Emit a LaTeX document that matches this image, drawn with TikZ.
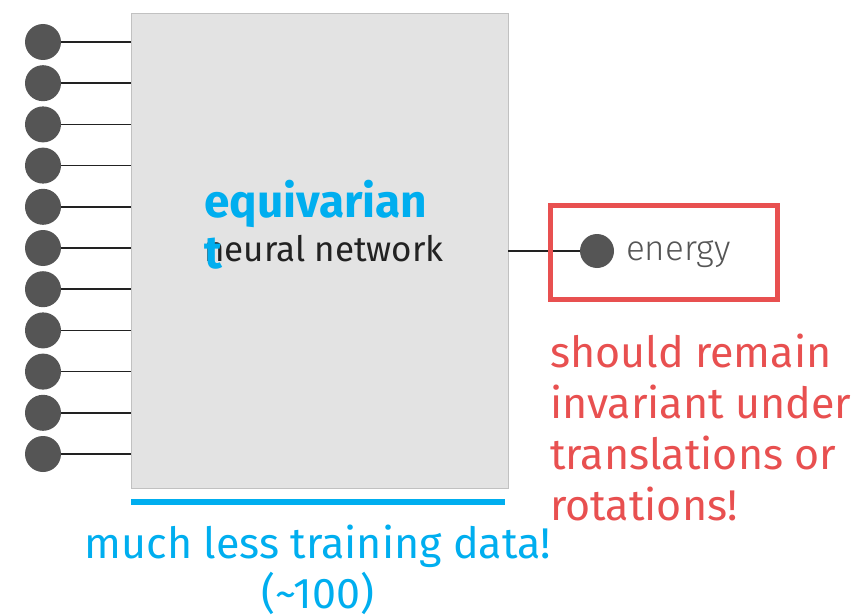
\documentclass[tikz,border=0pt]{standalone}
\usepackage{fontspec}
\setmainfont{Fira Sans}
\newfontfamily\lightfont{Fira Sans Light}
\definecolor{dotgray}{HTML}{555555}
\definecolor{boxgray}{HTML}{E3E3E3}
\definecolor{eqblue}{HTML}{00AEEF}
\definecolor{warnred}{HTML}{E85050}
\definecolor{textdark}{HTML}{222222}
\tikzset{
  inputdot/.style={circle,fill=dotgray,minimum size=36pt,inner sep=0pt},
  outdot/.style={circle,fill=dotgray,minimum size=34pt,inner sep=0pt},
  wire/.style={line width=1.6pt,draw=textdark},
  redline/.style={anchor=base west,inner sep=0pt,text=warnred,font=\fontsize{43}{51}\selectfont},
  blueline/.style={anchor=base,inner sep=0pt,text=eqblue,font=\fontsize{43}{50}\selectfont},
}
\begin{document}
\begin{tikzpicture}[x=1pt,y=-1pt]
\useasboundingbox (0,0) rectangle (859,615);
\node[fill=boxgray,draw=boxgray!85!black,line width=0.4pt,minimum width=377pt,minimum height=475pt,inner sep=0pt,anchor=north west] (nn) at (131,13) {};
\foreach \i in {0,...,10} {
  \node[inputdot] (in\i) at (43,{42+\i*41.2}) {};
  \coordinate (e\i) at (131,{42+\i*41.2});
  \draw[wire] (in\i) -- (e\i);
}
\node[anchor=base west,inner sep=0pt,text=eqblue,font=\fontsize{46}{52}\selectfont\bfseries] (eq) at (204,217) {equivarian};
\node[anchor=base west,inner sep=0pt,text=textdark,font=\fontsize{35}{40}\selectfont] (neu) at (204,261) {neural network};
\node[anchor=base west,inner sep=0pt,text=eqblue,font=\fontsize{46}{52}\selectfont\bfseries] (tt) at (204,268) {t};
\coordinate (nnout) at (508,251);
\node[outdot] (en) at (597,251) {};
\draw[wire] (nnout) -- (en);
\node[anchor=base west,inner sep=0pt,text=dotgray,font=\fontsize{35}{40}\selectfont\lightfont] (entext) at (626,260) {energy};
\node[draw=warnred,line width=5pt,minimum width=227pt,minimum height=94pt,inner sep=0pt,anchor=north west] (redbox) at (548,203) {};
\node[redline] (w1) at (550,367) {should remain};
\node[redline] (w2) at (550,418) {invariant under};
\node[redline] (w3) at (550,469) {translations or};
\node[redline] (w4) at (550,520) {rotations!};
\node[fill=eqblue,minimum width=374pt,minimum height=6pt,inner sep=0pt] (bar) at (318,502) {};
\node[blueline] (less1) at (318,558) {much less training data!};
\node[blueline] (less2) at (318,608) {(\textasciitilde100)};
\end{tikzpicture}
\end{document}
